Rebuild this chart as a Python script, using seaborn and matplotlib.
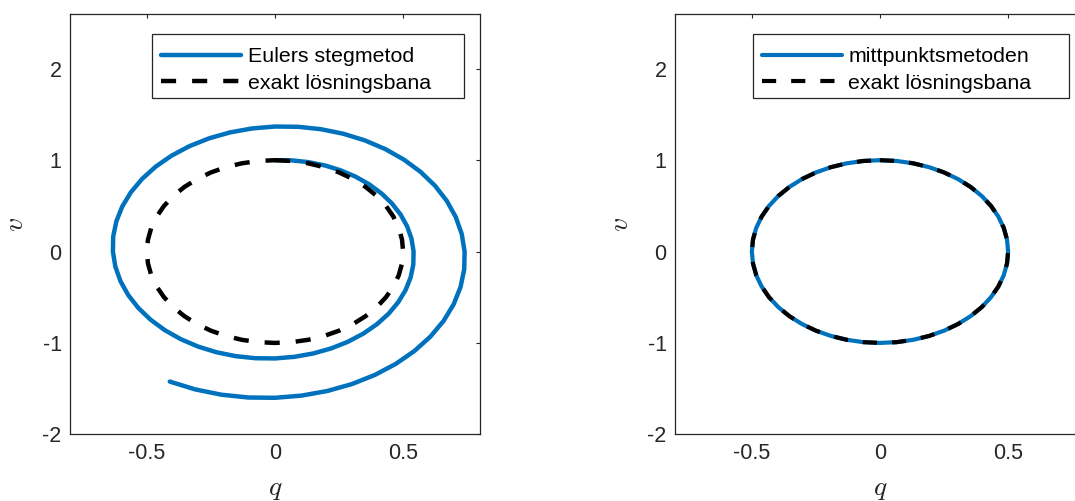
import numpy as np
import pandas as pd
import matplotlib
matplotlib.use("Agg")
import matplotlib.pyplot as plt
from matplotlib.patches import Rectangle
import seaborn as sns

# ---- data ----
euler_q = [0.0, 0.0657, 0.1311, 0.1951, 0.2566, 0.3145, 0.3677, 0.4152, 0.4562, 0.4899,
           0.5156, 0.5327, 0.5408, 0.5397, 0.5292, 0.5095, 0.4807, 0.4433, 0.3977, 0.3446,
           0.2849, 0.2195, 0.1494, 0.0758, 0.0, -0.0768, -0.1534, -0.2283, -0.3002, -0.3679,
           -0.4301, -0.4857, -0.5337, -0.5731, -0.6031, -0.6231, -0.6326, -0.6313, -0.6190,
           -0.5960, -0.5623, -0.5185, -0.4652, -0.4031, -0.3333, -0.2567, -0.1748, -0.0887,
           0.0, 0.0899, 0.1794, 0.2670, 0.3511, 0.4303, 0.5031, 0.5682, 0.6243, 0.6703,
           0.7054, 0.7288, 0.7399, 0.7384, 0.7241, 0.6971, 0.6578, 0.6065, 0.5441, 0.4715,
           0.3898, 0.3003, 0.2044, 0.1038, 0.0, -0.1051, -0.2098, -0.3123, -0.4107]
euler_v = [1.0, 0.9979, 0.9786, 0.9422, 0.8889, 0.8197, 0.7354, 0.6372, 0.5268, 0.4059,
           0.2763, 0.1403, 0.0, -0.1421, -0.2836, -0.4221, -0.5551, -0.6803, -0.7953, -0.8982,
           -0.9869, -1.0597, -1.1152, -1.1522, -1.1697, -1.1673, -1.1447, -1.1021, -1.0398,
           -0.9588, -0.8602, -0.7454, -0.6162, -0.4747, -0.3232, -0.1641, 0.0, 0.1662, 0.3317,
           0.4937, 0.6493, 0.7957, 0.9303, 1.0506, 1.1544, 1.2396, 1.3045, 1.3477, 1.3683,
           1.3655, 1.3390, 1.2891, 1.2163, 1.1216, 1.0062, 0.8719, 0.7208, 0.5553, 0.3780,
           0.1919, 0.0, -0.1944, -0.3881, -0.5775, -0.7595, -0.9308, -1.0882, -1.2290,
           -1.3503, -1.4500, -1.5259, -1.5765, -1.6005, -1.5972, -1.5663, -1.5080, -1.4228]

exact_q = [0.0, 0.0653, 0.1294, 0.1913, 0.25, 0.3044, 0.3536, 0.3967, 0.4330, 0.4619,
           0.4830, 0.4957, 0.5,
           0.4957, 0.4830, 0.4619, 0.4330, 0.3967, 0.3536, 0.3044, 0.25, 0.1913, 0.1294,
           0.0653, 0.0,
           -0.0653, -0.1294, -0.1913, -0.25, -0.3044, -0.3536, -0.3967, -0.4330, -0.4619,
           -0.4830, -0.4957, -0.5,
           -0.4957, -0.4830, -0.4619, -0.4330, -0.3967, -0.3536, -0.3044, -0.25, -0.1913,
           -0.1294, -0.0653, 0.0]
exact_v = [1.0, 0.9914, 0.9659, 0.9239, 0.8660, 0.7934, 0.7071, 0.6088, 0.5, 0.3827,
           0.2588, 0.1305, 0.0,
           -0.1305, -0.2588, -0.3827, -0.5, -0.6088, -0.7071, -0.7934, -0.8660, -0.9239,
           -0.9659, -0.9914, -1.0,
           -0.9914, -0.9659, -0.9239, -0.8660, -0.7934, -0.7071, -0.6088, -0.5, -0.3827,
           -0.2588, -0.1305, 0.0,
           0.1305, 0.2588, 0.3827, 0.5, 0.6088, 0.7071, 0.7934, 0.8660, 0.9239,
           0.9659, 0.9914, 1.0]

mid_q = list(exact_q)
mid_v = list(exact_v)

x_ticks = [-0.5, 0, 0.5]
x_ticklabels = ["-0.5", "0", "0.5"]
y_ticks = [-2, -1, 0, 1, 2]
y_ticklabels = ["-2", "-1", "0", "1", "2"]

label_euler = "Eulers stegmetod"
label_mid = "mittpunktsmetoden"
label_exact = "exakt lösningsbana"

# ---- style ----
sns.set_style("white")
plt.rcParams['font.family'] = ['Liberation Sans', 'DejaVu Sans']
plt.rcParams['mathtext.fontset'] = 'cm'
plt.rcParams['axes.unicode_minus'] = False
plt.rcParams['lines.solid_joinstyle'] = 'round'
plt.rcParams['lines.dash_joinstyle'] = 'round'

BLUE = "#0072BD"
DARK = "#262626"

fig = plt.figure(figsize=(10.75, 5.01), dpi=100)
ax1 = fig.add_axes([70/1075, 1-434.3/501, 410/1075, 420.3/501])
ax2 = fig.add_axes([675/1075, 1-434.3/501, 410/1075, 420.3/501])

def style(ax):
    ax.set_xlim(-0.8, 0.8)
    ax.set_ylim(-2, 2.6)
    ax.set_xticks(x_ticks)
    ax.set_xticklabels(x_ticklabels)
    ax.set_yticks(y_ticks)
    ax.set_yticklabels(y_ticklabels)
    ax.tick_params(direction="in", length=3.2, width=0.8, colors=DARK,
                   labelsize=15.5, top=True, right=True, labelcolor=DARK, pad=6)
    for s in ax.spines.values():
        s.set_color(DARK)
        s.set_linewidth(0.9)
    ax.set_xlabel("$q$", fontsize=20, color=DARK, labelpad=9)
    ax.set_ylabel("$v$", fontsize=20, color=DARK, labelpad=10)

df_e = pd.DataFrame({"q": euler_q, "v": euler_v})
df_x = pd.DataFrame({"q": exact_q, "v": exact_v})
df_m = pd.DataFrame({"q": mid_q, "v": mid_v})

sns.lineplot(data=df_e, x="q", y="v", sort=False, estimator=None, ax=ax1,
             color=BLUE, linewidth=3.2, label=label_euler)
sns.lineplot(data=df_x, x="q", y="v", sort=False, estimator=None, ax=ax1,
             color="black", linewidth=3.2, label=label_exact)
ax1.lines[1].set_dashes((3.4, 3.6))

sns.lineplot(data=df_m, x="q", y="v", sort=False, estimator=None, ax=ax2,
             color=BLUE, linewidth=3.0, label=label_mid)
sns.lineplot(data=df_x, x="q", y="v", sort=False, estimator=None, ax=ax2,
             color="black", linewidth=3.0, label=label_exact)
ax2.lines[1].set_dashes((3.4, 3.6))

# legend frame boxes (axes fraction): x0, y0, width, height
legend_boxes = {ax1: (0.2, 0.7994, 0.761, 0.1523), ax2: (0.1895, 0.7994, 0.772, 0.1523)}
shift = 4.0 / 420.3

for ax in (ax1, ax2):
    style(ax)
    x0, y0, w, h = legend_boxes[ax]
    ax.add_patch(Rectangle((x0, y0), w, h, transform=ax.transAxes, facecolor="white",
                           edgecolor=DARK, linewidth=0.9, zorder=4))
    leg = ax.legend(loc="upper left", bbox_to_anchor=(x0, y0 + h - shift),
                    borderaxespad=0, fontsize=15.4, frameon=False,
                    handlelength=3.75, handletextpad=0.3,
                    labelspacing=0.35, borderpad=0.42)
    leg.set_zorder(5)
    for t in leg.get_texts():
        t.set_color("black")

fig.savefig("out.png", dpi=100)
